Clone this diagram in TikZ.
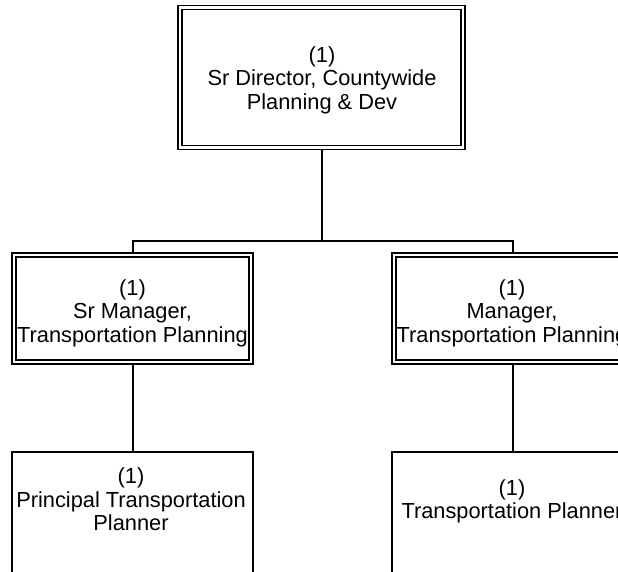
\documentclass[tikz,border=0pt]{standalone}
\usepackage{fontspec}
\setmainfont{Liberation Sans}
\begin{document}
\begin{tikzpicture}[x=1pt,y=-1pt,
  dbox/.style={draw, line width=1.7pt, double=white, double distance=2.2pt,
    inner sep=0pt, outer sep=2.8pt, rectangle},
  sbox/.style={draw, line width=2pt, inner sep=0pt, outer sep=0pt, rectangle},
  txt/.style={align=center, inner sep=0pt, anchor=base,
    font=\fontsize{21.8}{23.4}\selectfont},
  conn/.style={line width=2pt}]
\useasboundingbox (0,0) rectangle (618,571);
\clip (0,0) rectangle (618,571);
% boxes
\node[dbox, minimum width=283.5pt, minimum height=140pt] (top) at (321.5,77.5) {};
\node[dbox, minimum width=237pt, minimum height=107pt] (srm) at (132.5,308.5) {};
\node[dbox, minimum width=237pt, minimum height=107pt] (mgr) at (512.5,308.5) {};
\node[sbox, minimum width=241pt, minimum height=188pt] (ptp) at (132.5,546) {};
\node[sbox, minimum width=241pt, minimum height=188pt] (tp) at (512.5,546) {};
% texts (anchored at the baseline of the last line)
\node[txt] (ttop) at (322,109.2) {(1)\\Sr Director, Countywide\\Planning \& Dev};
\node[txt] (tsrm) at (132.5,342.3) {(1)\\Sr Manager,\\Transportation Planning};
\node[txt] (tmgr) at (512,342.3) {(1)\\Manager,\\Transportation Planning};
\node[txt] (tptp) at (131,530.5) {(1)\\Principal Transportation\\Planner};
\node[txt] (ttp) at (512,518.5) {(1)\\Transportation Planner};
% connectors
\coordinate (bus) at (321.5,241);
\draw[conn] (top.south) -- (bus);
\draw[conn] (srm.north) |- (bus) -| (mgr.north);
\draw[conn] (srm.south) -- (ptp.north);
\draw[conn] (mgr.south) -- (tp.north);
\end{tikzpicture}
\end{document}
